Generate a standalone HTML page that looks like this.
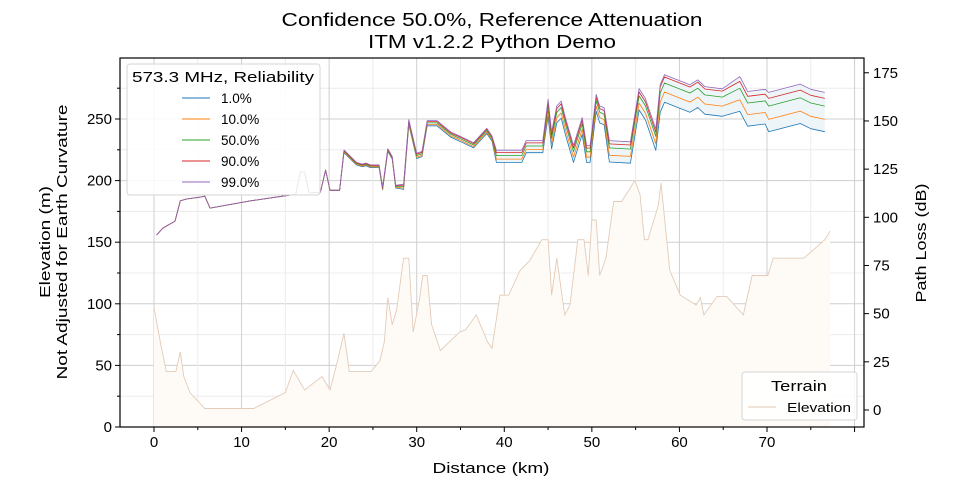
<!DOCTYPE html>
<html><head><meta charset="utf-8">
<style>
html,body{margin:0;padding:0;background:#fff;}
svg{display:block;font-family:"Liberation Sans","DejaVu Sans",sans-serif;}
</style></head>
<body>
<svg id="chart" width="960" height="480" viewBox="0 0 960 480" xmlns="http://www.w3.org/2000/svg">
<text x="492" y="26" font-size="18" text-anchor="middle" textLength="421" lengthAdjust="spacingAndGlyphs">Confidence 50.0%, Reference Attenuation</text>
<text x="492" y="48" font-size="18" text-anchor="middle" textLength="248" lengthAdjust="spacingAndGlyphs">ITM v1.2.2 Python Demo</text>
<g id="grid"></g>
<g id="terrain"></g>
<g id="loss"></g>
<g id="axes"></g>
<text x="491" y="473" font-size="15" text-anchor="middle" textLength="117" lengthAdjust="spacingAndGlyphs">Distance (km)</text>
<text transform="translate(50,242) rotate(-90)" font-size="15" text-anchor="middle" textLength="112" lengthAdjust="spacingAndGlyphs">Elevation (m)</text>
<text transform="translate(67,242) rotate(-90)" font-size="15" text-anchor="middle" textLength="275" lengthAdjust="spacingAndGlyphs">Not Adjusted for Earth Curvature</text>
<text transform="translate(926,243) rotate(-90)" font-size="15" text-anchor="middle" textLength="119" lengthAdjust="spacingAndGlyphs">Path Loss (dB)</text>
<g>
<rect x="127" y="64" width="193" height="131" rx="3" fill="#fff" fill-opacity="0.85" stroke="#d6d6d6"/>
<text x="223" y="82" font-size="15" text-anchor="middle" textLength="182" lengthAdjust="spacingAndGlyphs">573.3 MHz, Reliability</text>
<g id="leg1"></g>
</g>
<g>
<rect x="742" y="372" width="115" height="48" rx="3" fill="#fff" fill-opacity="0.85" stroke="#d6d6d6"/>
<text x="799" y="391" font-size="15" text-anchor="middle" textLength="56" lengthAdjust="spacingAndGlyphs">Terrain</text>
<line x1="748" y1="407" x2="776" y2="407" stroke="#e6d3c3" stroke-width="1.2"/>
<text x="787" y="412" font-size="13" textLength="64" lengthAdjust="spacingAndGlyphs">Elevation</text>
</g>
</svg>
<script>
const terrainKm=[0,0.7,1.4,2.5,3.0,3.4,4.1,5.8,11.4,15,15.9,17.2,19.2,20.1,20.8,21.7,22.3,24.8,25.8,26.3,26.7,27.2,27.7,28.5,29.1,29.6,30.3,30.7,31.2,31.7,32.7,34.9,35.6,36.8,38.1,38.6,39.5,40.5,41.8,42.9,44.3,45.0,45.4,46.0,46.9,47.5,48.4,49.1,49.6,50.0,50.5,50.9,51.6,52.5,53.4,54.1,54.9,55.5,56.0,56.4,57.6,57.9,58.9,60.1,61.9,62.4,62.8,64.3,65.4,67.3,68.3,70.1,70.7,74.2,76.6,77.2];
const terrainElev=[97,70,45,45,61,41,28,15,15,28,46,30,41,30,49,76,45,45,54,69,105,83,95,137,137,77,103,123,123,83,62,77,79,91,69,64,107,107,127,135,152,152,107,137,91,99,152,152,123,168,168,123,137,183,183,191,200,189,152,152,180,198,127,107,99,105,91,106,106,91,123,123,137,137,152,159];
const lossKm=[0.3,1.0,2.4,3.0,3.7,5.3,5.8,6.4,11.0,16.2,16.7,17.2,17.7,19.0,19.6,20.1,21.2,21.7,23.1,23.8,24.2,24.7,25.7,26.1,26.7,27.2,27.6,28.5,29.1,30.0,30.6,31.2,32.3,33.9,34.9,36.5,38.0,38.6,39.1,42.0,42.5,44.4,45.0,45.4,46.0,46.5,47.0,47.9,48.9,49.4,49.8,50.5,50.9,51.4,52.0,54.4,55.4,56.1,57.3,57.8,58.3,61.2,62.1,62.9,64.9,66.9,67.8,69.8,70.2,73.8,75.0,76.6];
const lossA=[90.8,94.4,98,108.5,109.5,110.5,111,104.8,108.5,112,123.5,123.5,112.6,113,124.5,114,114];
const loss1=lossA.concat([133.6,127.2,126.2,126.8,125.8,125.8,114.2,134.2,130.2,115.2,114.5,148,130.5,131.5,147.5,147.5,141.5,139.5,136,143.5,139.5,128.5,128.5,133.5,133.5,152.5,135.5,149,151.5,142.5,128.5,143,128.5,128.5,155,149,148,128.7,128.1,155.7,150.7,134.7,154.5,159.7,154.5,157,153.5,152.4,155,147.3,148.4,144.4,148.7,146,144.4]);
const loss10=lossA.concat([134,127.6,126.6,127.2,126.2,126.2,114.6,134.6,130.6,115.6,115.2,148.7,131.2,132.2,148.2,148.2,142.2,140.2,136.7,144.2,140.2,130.2,130.2,135.2,135.2,155.2,138.2,151.7,154.2,145.2,131.2,145.7,131.2,131.2,157.7,151.7,150.7,132.2,131.6,159.2,154.2,138.2,159.8,165,159.8,162.3,158.8,157.7,161,153.3,154.4,150.8,155.1,152.4,150.8]);
const loss50=lossA.concat([134.4,128,127,127.6,126.6,126.6,115,135,131,116,116,149.5,132,133,149,149,143,141,137.5,145,141,132,132,137,137,158,141,154.5,157,148,134,148.5,134,134,160.5,154.5,153.5,136,135.4,163,158,142,164.5,169.7,164.5,167,163.5,162.4,167,159.3,160.4,157.7,162,159.3,157.7]);
const loss90=lossA.concat([134.7,128.3,127.3,127.9,126.9,126.9,115.3,135.3,131.3,116.3,116.7,150.2,132.7,133.7,149.7,149.7,143.7,141.7,138.2,145.7,141.7,133.6,133.6,138.6,138.6,159.9,142.9,156.4,158.9,149.9,135.9,150.4,135.9,135.9,162.4,156.4,155.4,138.1,137.5,165.1,160.1,144.1,167.6,172.8,167.6,170.1,166.6,165.5,170.5,162.8,163.9,161.7,166,163.3,161.7]);
const loss99=lossA.concat([135,128.6,127.6,128.2,127.2,127.2,115.6,135.6,131.6,116.6,117.2,150.7,133.2,134.2,150.2,150.2,144.2,142.2,138.7,146.2,142.2,134.8,134.8,139.8,139.8,161.3,144.3,157.8,160.3,151.3,137.3,151.8,137.3,137.3,163.8,157.8,156.8,139.8,139.2,166.8,161.8,145.8,168.8,174,168.8,171.3,167.8,166.7,173,165.3,166.4,164.8,169.1,166.4,164.8]);
const seriesLabels=["1.0%","10.0%","50.0%","90.0%","99.0%"];
const seriesColors=["#1f77b4","#ff7f0e","#2ca02c","#d62728","#9467bd"];
const xTicks=[0,10,20,30,40,50,60,70];
const elevTicks=[0,50,100,150,200,250];
const lossTicks=[0,25,50,75,100,125,150,175];

const L=120,R=864,T=58,B=427;
const xS=d=>154+d*8.757;
const eS=v=>427-v*1.232;
const pS=v=>410-v*1.927;
const NS="http://www.w3.org/2000/svg";
function mk(tag,attrs,parent){const e=document.createElementNS(NS,tag);for(const k in attrs)e.setAttribute(k,attrs[k]);parent.appendChild(e);return e;}
const grid=document.getElementById('grid'),axes=document.getElementById('axes'),ter=document.getElementById('terrain'),loss=document.getElementById('loss'),leg1=document.getElementById('leg1');

for(let v=0;v<=300;v+=25){const y=eS(v);if(y<T)continue;const maj=v%50===0;
 const g=mk('line',{x1:L,x2:R,y1:y,y2:y,stroke:maj?'#cfcfcf':'#ececec','stroke-width':1},grid);
 }
for(let d=0;d<=80;d+=5){const x=xS(d);if(x>R)continue;const maj=d%10===0;
 const g=mk('line',{x1:x,x2:x,y1:T,y2:B,stroke:maj?'#cfcfcf':'#ececec','stroke-width':1},grid);
 }

let tp='M'+xS(terrainKm[0])+','+eS(0);
terrainKm.forEach((d,i)=>{tp+=' L'+xS(d).toFixed(1)+','+eS(terrainElev[i]).toFixed(1);});
tp+=' L'+xS(terrainKm[terrainKm.length-1])+','+eS(0)+' Z';
const tf=mk('path',{d:tp,fill:'#fefbf6',stroke:'none'},ter);

const tl=mk('polyline',{points:terrainKm.map((d,i)=>xS(d).toFixed(1)+','+eS(terrainElev[i]).toFixed(1)).join(' '),fill:'none',stroke:'#e3cbb8','stroke-width':0.9},ter);


let bp=lossKm.map((d,i)=>xS(d).toFixed(1)+','+pS(loss99[i]).toFixed(1)).join(' ')+' '+lossKm.slice().reverse().map((d,j)=>{const i=lossKm.length-1-j;return xS(d).toFixed(1)+','+pS(loss1[i]).toFixed(1);}).join(' ');
const band=mk('polygon',{points:bp,fill:'#eef5f9',stroke:'none'},loss);

const allLoss=[loss1,loss10,loss50,loss90,loss99];
allLoss.forEach((arr,s)=>{
 const pl=mk('polyline',{points:lossKm.map((d,i)=>xS(d).toFixed(1)+','+pS(arr[i]).toFixed(1)).join(' '),fill:'none',stroke:seriesColors[s],'stroke-width':0.8,'stroke-linejoin':'round'},loss);
 
 const y=98+s*21;
 const ll=mk('line',{x1:182,x2:210,y1:y,y2:y,stroke:seriesColors[s],'stroke-width':1},leg1);
 
 const lt=mk('text',{x:221,y:y+5,'font-size':13.5},leg1);lt.textContent=seriesLabels[s];
 
});

const fr=mk('rect',{x:L,y:T,width:R-L,height:B-T,fill:'none',stroke:'#000','stroke-width':1.2},axes);

for(let d=0;d<=80;d+=5){const x=xS(d);if(x>R)continue;mk('line',{x1:x,x2:x,y1:B,y2:B+(d%10===0?5:3),stroke:'#000'},axes);}
xTicks.forEach(d=>{const t=mk('text',{x:xS(d),y:B+20,'font-size':15,'text-anchor':'middle'},axes);t.textContent=d;
 });
for(let v=0;v<=300;v+=25){const y=eS(v);if(y<T)continue;mk('line',{x1:L,x2:L-(v%50===0?5:3),y1:y,y2:y,stroke:'#000'},axes);}
elevTicks.forEach(v=>{const t=mk('text',{x:L-8,y:eS(v)+5,'font-size':15,'text-anchor':'end'},axes);t.textContent=v;
 });
lossTicks.forEach(v=>{mk('line',{x1:R,x2:R+5,y1:pS(v),y2:pS(v),stroke:'#000'},axes);
 const t=mk('text',{x:R+9,y:pS(v)+5,'font-size':15},axes);t.textContent=v;
 });
</script>
</body></html>
